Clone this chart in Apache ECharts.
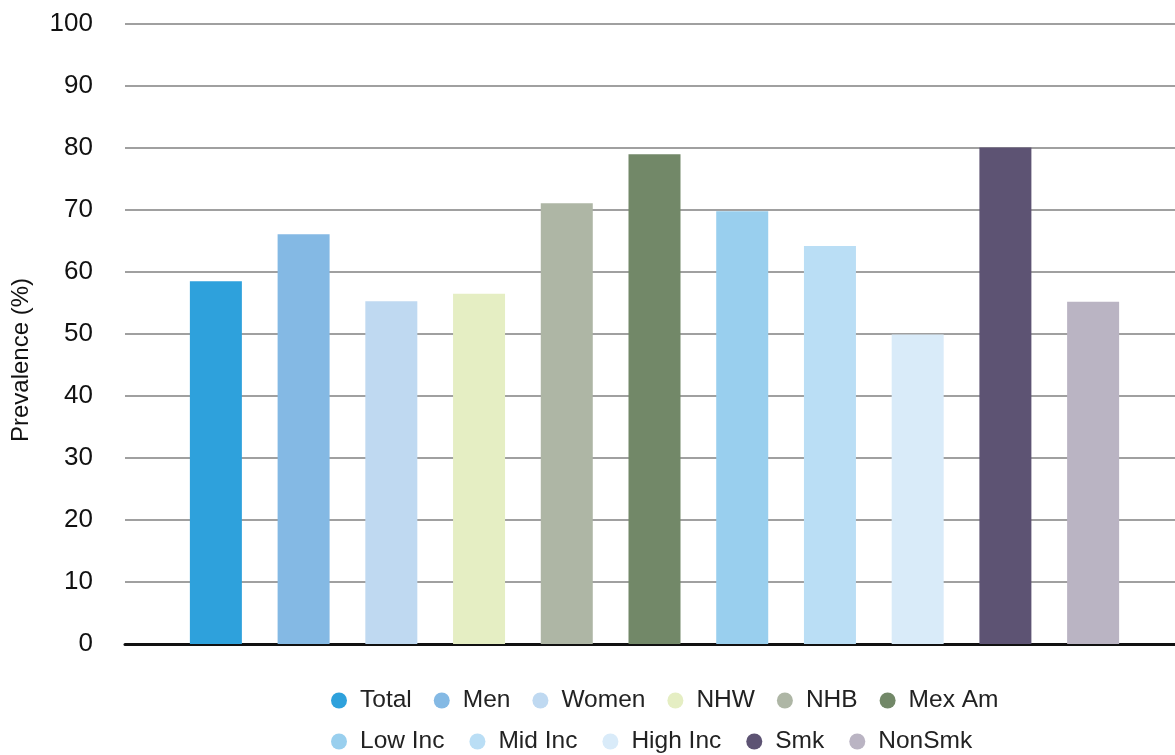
<!DOCTYPE html>
<html>
<head>
<meta charset="utf-8">
<script src="https://cdn.jsdelivr.net/npm/echarts@6/dist/echarts.min.js"></script>
<style>
html,body{margin:0;padding:0;background:#fff;}
#chart{width:1175px;height:755px;}
</style>
</head>
<body>
<div id="chart"></div>
<script>
const groups = ['Total','Men','Women','NHW','NHB','Mex Am','Low Inc','Mid Inc','High Inc','Smk','NonSmk'];
const prevalence = [58.5, 66.1, 55.3, 56.5, 71.1, 79.0, 69.8, 64.2, 49.9, 80.1, 55.2];
const colors = ['#2ea1dc','#84b9e4','#bfd9f1','#e5eec3','#aeb6a5','#728868','#99cfee','#badef5','#d9ebf9','#5d5373','#bab4c3'];
const legendRow1 = ['Total','Men','Women','NHW','NHB','Mex Am'];
const legendRow2 = ['Low Inc','Mid Inc','High Inc','Smk','NonSmk'];
const yTicks = [0,10,20,30,40,50,60,70,80,90,100];

const chart = echarts.init(document.getElementById('chart'), null, {renderer:'canvas'});
const fontFamily = 'Liberation Sans, Arial, Helvetica, sans-serif';
const legendCommon = {
  left: 326,
  orient: 'horizontal',
  icon: 'circle',
  itemWidth: 16,
  itemHeight: 16,
  itemGap: 25,
  textStyle: {fontFamily: fontFamily, fontSize: 24.5, color: '#222', padding: [0,0,0,8]}
};
const option = {
  animation: false,
  backgroundColor: '#fff',
  grid: {left: 125, right: -9, top: 24, bottom: 111, containLabel: false, outerBoundsMode: 'none'},
  legend: [
    Object.assign({}, legendCommon, {top: 683, itemGap: 22, data: legendRow1}),
    Object.assign({}, legendCommon, {top: 724, data: legendRow2})
  ],
  xAxis: {
    type: 'category',
    data: [''],
    axisLabel: {show: false},
    axisTick: {show: false},
    axisLine: {show: true, lineStyle: {color: '#111', width: 3}},
    splitLine: {show: false}
  },
  yAxis: {
    type: 'value',
    min: yTicks[0],
    max: yTicks[yTicks.length-1],
    interval: 10,
    name: 'Prevalence (%)',
    nameLocation: 'middle',
    nameGap: 92,
    nameRotate: 90,
    nameTextStyle: {fontFamily: fontFamily, fontSize: 24, color: '#111', padding: [0, 52, 0, 0]},
    axisLine: {show: false},
    axisTick: {show: false},
    axisLabel: {fontFamily: fontFamily, fontSize: 26, color: '#111', margin: 32},
    splitLine: {show: true, lineStyle: {color: '#a0a0a0', width: 2}}
  },
  series: groups.map((g, i) => ({
    name: g,
    type: 'bar',
    data: [prevalence[i]],
    barWidth: 52,
    barGap: '68.7%',
    itemStyle: {color: colors[i]}
  }))
};
chart.setOption(option);
</script>
</body>
</html>
